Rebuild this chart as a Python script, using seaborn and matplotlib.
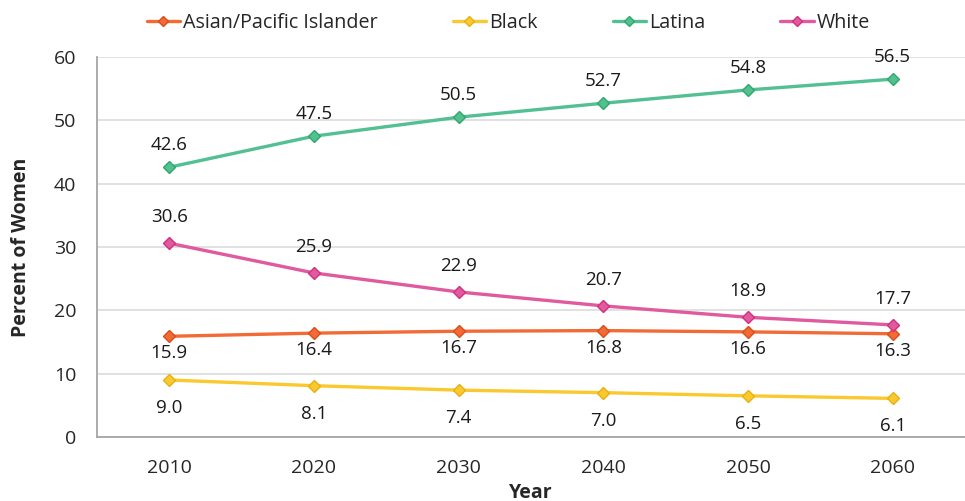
import pandas as pd
import matplotlib
matplotlib.use("Agg")
import matplotlib.pyplot as plt
import seaborn as sns

# data
years = ["2010", "2020", "2030", "2040", "2050", "2060"]
asian = [15.9, 16.4, 16.7, 16.8, 16.6, 16.3]
black = [9.0, 8.1, 7.4, 7.0, 6.5, 6.1]
latina = [42.6, 47.5, 50.5, 52.7, 54.8, 56.5]
white = [30.6, 25.9, 22.9, 20.7, 18.9, 17.7]

groups = ["Asian/Pacific Islander", "Black", "Latina", "White"]
colors = ["#F26A35", "#FAC92F", "#52C092", "#E05A9F"]
edges = ["#D94F1C", "#E8B010", "#2FA86A", "#D42E7E"]
label_offset = [-17, -28, 22, 26]  # pixels, + above / - below

df = pd.DataFrame({
    "Year": years * 4,
    "Percent": asian + black + latina + white,
    "Group": [g for g in groups for _ in years],
})

sns.set_style("white")
plt.rcParams["font.family"] = ["Open Sans", "DejaVu Sans"]

fig = plt.figure(figsize=(9.65, 5.01), dpi=100)
ax = fig.add_axes([97 / 965, 64 / 501, 868 / 965, 380 / 501])

sns.lineplot(data=df, x="Year", y="Percent", hue="Group", hue_order=groups,
             palette=colors, marker="D", markersize=6, linewidth=2.4,
             dashes=False, ax=ax, legend=False)

for line, ec in zip(ax.get_lines(), edges):
    line.set_markeredgecolor(ec)
    line.set_markeredgewidth(1.0)

# value labels
for g, off in zip(groups, label_offset):
    sub = df[df["Group"] == g]
    for i, v in enumerate(sub["Percent"]):
        ax.annotate(f"{v:.1f}", (i, v), xytext=(0, off * 0.72),
                    textcoords="offset points", ha="center", va="center",
                    fontsize=13.5, color="#1a1a1a")

ax.set_xlim(-0.5, 5.5 - 2 / 145)
ax.set_ylim(0, 60)
ax.set_yticks([0, 10, 20, 30, 40, 50, 60])
ax.yaxis.grid(True, color="#d9d9d9", linewidth=1.1)
ax.set_axisbelow(True)

# ticks between categories on x axis
ax.set_xticks(range(len(years)))
ax.set_xticklabels(years)
ax.set_xticks([i + 0.5 for i in range(-1, len(years))], minor=True)
ax.tick_params(axis="x", which="major", length=0, pad=16, labelsize=14)
ax.tick_params(axis="x", which="minor", length=6, color="#a6a6a6", width=1.2)
ax.tick_params(axis="y", length=6, color="#a6a6a6", width=1.2, pad=9, labelsize=14)

for s in ["top", "right"]:
    ax.spines[s].set_visible(False)
for s in ["left", "bottom"]:
    ax.spines[s].set_color("#a6a6a6")
    ax.spines[s].set_linewidth(1.3)

ax.set_xlabel("Year", fontsize=14, fontweight="bold", labelpad=4)
ax.set_ylabel("Percent of Women", fontsize=14, fontweight="bold", labelpad=16)

# legend
handles = [plt.Line2D([], [], color=c, marker="D", markersize=5, linewidth=2.4,
                      markeredgecolor=e) for c, e in zip(colors, edges)]
ax.legend(handles, groups, loc="center", bbox_to_anchor=(0.474, 1.09),
          ncol=4, frameon=False, fontsize=14.2, handlelength=1.7,
          handletextpad=0.15, columnspacing=3.8)

fig.savefig("out.png", dpi=100)
